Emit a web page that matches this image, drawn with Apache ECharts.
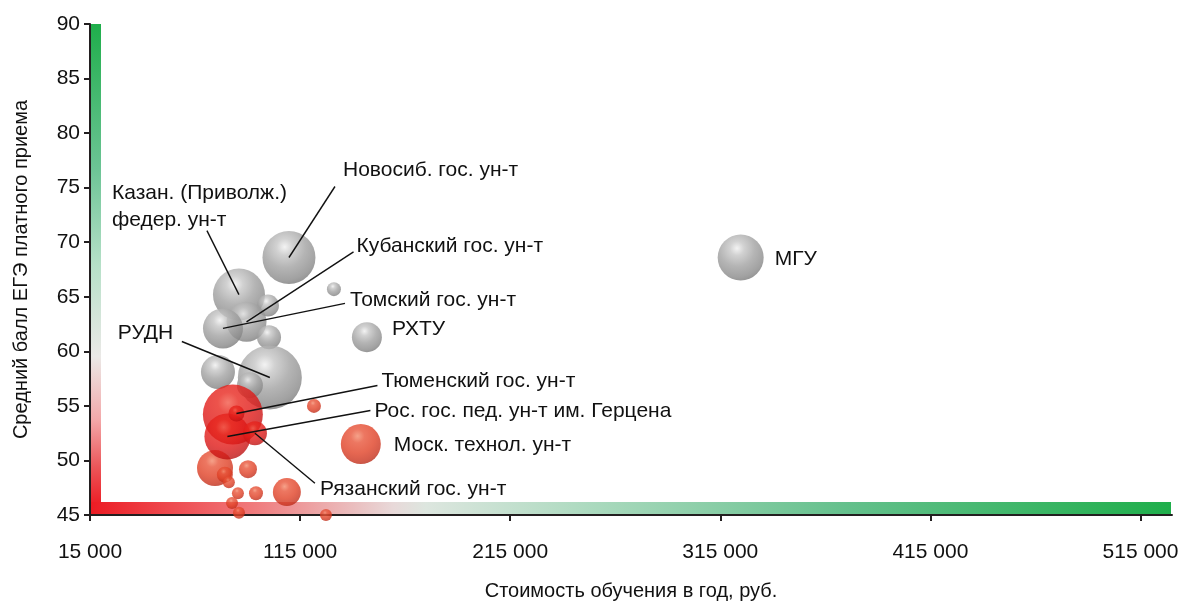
<!DOCTYPE html>
<html><head><meta charset="utf-8">
<script src="https://cdn.jsdelivr.net/npm/echarts@6/dist/echarts.min.js"></script>
<style>html,body{margin:0;padding:0;background:#fff}#c{width:1189px;height:604px}</style>
</head><body><div id="c"></div>
<script>
// ---- data ----
const xTicks = [15000, 115000, 215000, 315000, 415000, 515000];
const yTicks = [45, 50, 55, 60, 65, 70, 75, 80, 85, 90];

// grey bubbles (later entries drawn on top)
const grayNames = ['МГУ','Новосиб. гос. ун-т','Казан. (Приволж.) федер. ун-т','g4','Кубанский гос. ун-т','Томский гос. ун-т','g7','g8','РХТУ','РУДН','g11','g12'];
const grayCost  = [324700, 109700, 85900, 99700, 89500, 78300, 100200, 131100, 146800, 100600, 75900, 91100];
const grayScore = [68.6,   68.6,   65.2,  64.2,  62.7,  62.1,  61.3,   65.7,   61.3,   57.6,   58.1,  56.9];
const graySize  = [46,     53,     52,    22,    40,    40,    24,     14,     30,     64,     34,    26];

// bright-red bubbles (dense cluster)
const crimsonNames = ['c1','Рос. гос. пед. ун-т им. Герцена','Рязанский гос. ун-т','Тюменский гос. ун-т'];
const crimsonCost  = [83000, 80400, 93500, 84700];
const crimsonScore = [54.2,  52.2,  52.5,  54.3];
const crimsonSize  = [60,    46,    24,    16];

// orange-red bubbles
const redNames = ['r5','r6','r7','r8','r9','r10','r11','r12','r13','r14','r15','Моск. технол. ун-т'];
const redCost  = [74500, 90200, 79200, 81100, 85400, 94000, 108700, 82600, 85900, 127300, 121600, 143900];
const redScore = [49.3,  49.2,  48.7,  48.0,  47.0,  47.0,  47.1,   46.1,  45.2,  45.0,   55.0,   51.5];
const redSize  = [36,    18,    16,    12,    12,    14,    28,     12,    12,    12,     14,     40];

// annotations: [series, index, text]
const annSeries = ['gray','gray','gray','gray','gray','gray','gray','crimson','crimson','red','crimson'];
const annIndex  = [1, 2, 4, 5, 8, 0, 9, 3, 1, 11, 2];
const annText   = ['Новосиб. гос. ун-т','Казан. (Приволж.)\nфедер. ун-т','Кубанский гос. ун-т','Томский гос. ун-т','РХТУ','МГУ','РУДН','Тюменский гос. ун-т','Рос. гос. пед. ун-т им. Герцена','Моск. технол. ун-т','Рязанский гос. ун-т'];
// layout offsets (px) relative to the bubble centre: label left-middle, leader start (null = no leader)
const annLayout = [
  [54,-87, 46,-71],
  [-127,-88, -32,-64],
  [110,-76, 107,-70],
  [127,-28, 122,-25],
  [25,-8, null,null],
  [34,2, null,null],
  [-152,-44, -88,-36],
  [145,-32, 141,-28],
  [147,-25, 143,-26],
  [33,1, null,null],
  [65,56, 60,50]
];

const FONT = "'Liberation Sans', Arial, sans-serif";
const AXIS_COLOR = '#231f20';

function fmt(v){ return String(v).replace(/\B(?=(\d{3})+(?!\d))/g, ' '); }

const grayGrad = {type:'radial', x:0.42, y:0.3, r:0.78, colorStops:[
  {offset:0, color:'#f0f0f0'},{offset:0.2, color:'#c6c6c6'},{offset:0.5, color:'#a2a2a2'},{offset:0.8, color:'#8a8a8a'},{offset:1, color:'#6f6f6f'}]};
const redGrad = {type:'radial', x:0.42, y:0.3, r:0.78, colorStops:[
  {offset:0, color:'#f38a6c'},{offset:0.22, color:'#e8553a'},{offset:0.55, color:'#e04126'},{offset:0.82, color:'#c9321d'},{offset:1, color:'#a82514'}]};
const crimsonGrad = {type:'radial', x:0.42, y:0.3, r:0.78, colorStops:[
  {offset:0, color:'#f25a4a'},{offset:0.22, color:'#e8281f'},{offset:0.55, color:'#e01a18'},{offset:0.82, color:'#c81414'},{offset:1, color:'#a81010'}]};

const grayData    = grayCost.map((c,i)=>[c, grayScore[i], graySize[i], grayNames[i]]);
const crimsonData = crimsonCost.map((c,i)=>[c, crimsonScore[i], crimsonSize[i], crimsonNames[i]]);
const redData     = redCost.map((c,i)=>[c, redScore[i], redSize[i], redNames[i]]);
const dataBySeries = {gray:grayData, crimson:crimsonData, red:redData};

const chart = echarts.init(document.getElementById('c'), null, {renderer:'canvas'});
const option = {
  animation:false,
  backgroundColor:'#fff',
  textStyle:{fontFamily:FONT},
  grid:{left:90, right:17, top:24, bottom:89, outerBoundsMode:'none'},
  xAxis:{
    type:'value', min:15000, max:530000,
    name:'Стоимость обучения в год, руб.', nameLocation:'middle', nameGap:66,
    nameTextStyle:{fontSize:20, color:'#111', fontFamily:FONT},
    axisLine:{show:true, onZero:false, lineStyle:{color:AXIS_COLOR, width:2}},
    axisTick:{show:true, length:6, lineStyle:{color:AXIS_COLOR, width:2}, customValues:xTicks},
    axisLabel:{fontSize:21, color:'#111', margin:27, customValues:xTicks, formatter:fmt, fontFamily:FONT},
    splitLine:{show:false}
  },
  yAxis:{
    type:'value', min:45, max:90, interval:5,
    name:'Средний балл ЕГЭ платного приема', nameLocation:'middle', nameGap:59,
    nameTextStyle:{fontSize:20, color:'#111', fontFamily:FONT},
    axisLine:{show:true, onZero:false, lineStyle:{color:AXIS_COLOR, width:2}},
    axisTick:{show:true, length:6, lineStyle:{color:AXIS_COLOR, width:2}, customValues:yTicks},
    axisLabel:{fontSize:21, color:'#111', margin:10, customValues:yTicks, fontFamily:FONT},
    splitLine:{show:false}
  },
  series:[
    {type:'scatter', name:'gray', data:grayData, symbol:'circle', symbolSize:v=>v[2], z:3,
     itemStyle:{color:grayGrad}, clip:false},
    {type:'scatter', name:'red', data:redData, symbol:'circle', symbolSize:v=>v[2], z:4,
     itemStyle:{color:redGrad}, clip:false},
    {type:'scatter', name:'crimson', data:crimsonData, symbol:'circle', symbolSize:v=>v[2], z:5,
     itemStyle:{color:crimsonGrad}, clip:false}
  ]
};
chart.setOption(option);

function px(pt){ return chart.convertToPixel({gridIndex:0}, pt); }
const [gx0, gy0] = px([15000, 45]);
const [gx1, gy1] = px([530000, 90]);

const gfx = [];
// gradient frame bars
gfx.push({type:'rect', z:1, silent:true,
  shape:{x:gx0+1, y:gy1, width:10, height:(gy0-9)-gy1},
  style:{fill:{type:'linear', x:0,y:0,x2:0,y2:1, colorStops:[
    {offset:0, color:'#1fae4b'},{offset:0.3, color:'#6cc495'},{offset:0.5, color:'#b6e0c8'},
    {offset:0.69, color:'#ebe9e7'},{offset:0.82, color:'#f3a9aa'},{offset:0.92, color:'#ec5558'},{offset:1, color:'#ec1c24'}]}}});
gfx.push({type:'rect', z:1, silent:true,
  shape:{x:gx0+1, y:gy0-13, width:(gx1-2)-gx0, height:12},
  style:{fill:{type:'linear', x:0,y:0,x2:1,y2:0, colorStops:[
    {offset:0, color:'#ec1c24'},{offset:0.15, color:'#f07a7c'},{offset:0.28, color:'#e8d9d9'},
    {offset:0.31, color:'#dde6df'},{offset:0.46, color:'#acdabf'},{offset:0.7, color:'#64c08c'},{offset:1, color:'#1fae4b'}]}}});

// annotations
annText.forEach((t,i)=>{
  const d = dataBySeries[annSeries[i]][annIndex[i]];
  const [cx, cy] = px([d[0], d[1]]);
  const L = annLayout[i];
  if (L[2] !== null) {
    gfx.push({type:'line', z:10, silent:true,
      shape:{x1:cx+L[2], y1:cy+L[3], x2:cx, y2:cy},
      style:{stroke:'#111', lineWidth:1.4}});
  }
  gfx.push({type:'text', z:11, silent:true, x:cx+L[0], y:cy+L[1],
    style:{text:t, fill:'#111', font:'21px '+FONT, textAlign:'left', textVerticalAlign:'middle', lineHeight:27}});
});
chart.setOption({graphic:{elements:gfx}});
</script>
</body></html>
